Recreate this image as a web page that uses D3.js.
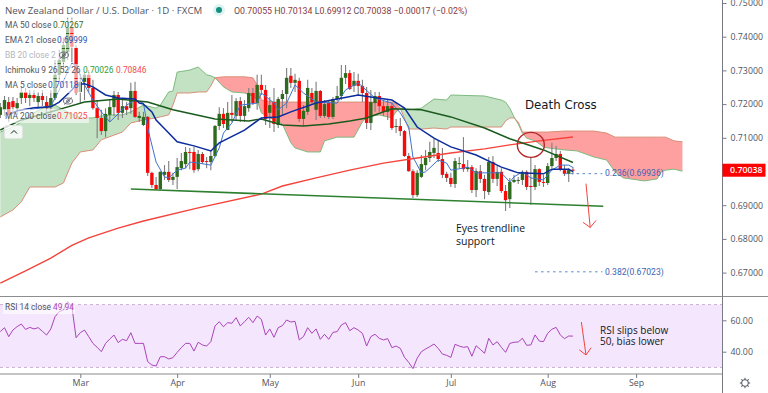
<!DOCTYPE html>
<html>
<head>
<meta charset="utf-8">
<script src="https://cdn.jsdelivr.net/npm/d3@7"></script>
<style>
  html, body { margin: 0; padding: 0; background: #fff; overflow: hidden; }
  text { font-family: "Open Sans", "Noto Sans", sans-serif; }
  .small { font-family: Roboto, sans-serif; }
</style>
</head>
<body>
<script>
var months = ["Mar", "Apr", "May", "Jun", "Jul", "Aug", "Sep"];
var monthBars = [19, 42, 64, 85, 107, 130, 151];
var priceTicks = [0.75, 0.74, 0.73, 0.72, 0.71, 0.70, 0.69, 0.68, 0.67];
var rsiTicks = [60, 40];

var opens = [.7168,.7183,.7206,.7209,.7188,.7218,.7236,.7218,.7227,.7206,.7224,.7206,.7191,.7218,.7287,.7325,.7355,.7426,.7367,.7236,
  .7266,.7287,.7248,.7188,.7159,.7120,.7168,.7191,.7227,.7174,.7194,.7188,.7239,.7159,.7138,.7162,.6996,.6960,.6948,.6990,
  .6999,.6975,.6984,.7010,.7022,.7058,.7058,.7007,.7052,.7031,.7028,.7046,.7135,.7171,.7123,.7174,.7165,.7209,.7165,.7188,
  .7233,.7203,.7257,.7242,.7174,.7206,.7138,.7215,.7230,.7284,.7263,.7269,.7156,.7177,.7233,.7183,.7239,.7165,.7203,.7162,
  .7215,.7224,.7278,.7292,.7254,.7269,.7254,.7233,.7144,.7203,.7224,.7194,.7177,.7194,.7132,.7135,.7120,.7046,.7001,.6930,
  .6984,.7019,.7040,.7055,.7055,.7037,.6993,.6981,.6963,.7022,.7022,.7007,.7013,.6945,.7001,.6978,.6939,.7028,.6978,.6999,
  .6942,.6918,.6969,.6972,.6975,.6999,.6957,.6954,.7007,.6969,.6966,.7016,.7040,.7052,.7004,.6993,.70055];
var highs = [.7203,.7224,.7221,.7221,.7218,.7254,.7248,.7242,.7242,.7236,.7242,.7224,.7242,.7331,.7361,.7397,.7456,.7456,.7376,.7290,
  .7295,.7301,.7272,.7212,.7183,.7188,.7212,.7239,.7236,.7218,.7206,.7263,.7266,.7177,.7177,.7165,.6999,.6984,.7001,.7019,
  .7031,.6996,.7040,.7055,.7073,.7070,.7073,.7064,.7058,.7043,.7064,.7138,.7191,.7188,.7206,.7227,.7218,.7221,.7212,.7248,
  .7248,.7287,.7287,.7257,.7221,.7248,.7221,.7242,.7307,.7307,.7290,.7278,.7197,.7272,.7248,.7266,.7242,.7212,.7212,.7221,
  .7254,.7316,.7316,.7301,.7295,.7290,.7272,.7251,.7242,.7236,.7236,.7212,.7212,.7203,.7156,.7159,.7123,.7055,.7007,.7004,
  .7049,.7064,.7088,.7097,.7091,.7070,.6999,.6996,.7040,.7043,.7102,.7034,.7019,.7010,.7019,.6990,.7043,.7046,.7016,.7010,
  .6960,.6981,.6990,.6984,.7004,.7004,.7043,.7019,.7010,.6990,.7025,.7085,.7076,.7061,.7019,.7010,.70134];
var lows = [.7159,.7165,.7147,.7174,.7168,.7200,.7203,.7194,.7206,.7188,.7194,.7171,.7168,.7212,.7266,.7301,.7331,.7325,.7227,.7203,
  .7212,.7236,.7183,.7099,.7108,.7102,.7147,.7165,.7153,.7159,.7168,.7171,.7159,.7147,.7135,.6987,.6951,.6945,.6945,.6975,
  .6969,.6960,.6948,.7004,.7010,.7007,.6996,.7001,.7022,.7010,.7004,.7043,.7123,.7129,.7123,.7147,.7153,.7147,.7147,.7177,
  .7197,.7183,.7227,.7138,.7129,.7117,.7129,.7168,.7188,.7248,.7236,.7147,.7135,.7168,.7200,.7153,.7159,.7159,.7156,.7156,
  .7209,.7212,.7260,.7242,.7236,.7227,.7206,.7126,.7123,.7177,.7177,.7165,.7153,.7123,.7114,.7105,.7043,.6999,.6921,.6924,
  .6981,.7004,.7028,.7040,.7028,.6981,.6969,.6954,.6951,.7010,.6999,.6999,.6936,.6924,.6966,.6918,.6930,.6966,.6957,.6936,
  .6883,.6892,.6966,.6963,.6960,.6945,.6901,.6945,.6957,.6954,.6960,.7010,.7031,.7001,.6987,.6969,.69912];
var closes = [.7191,.7212,.7168,.7191,.7203,.7236,.7218,.7227,.7218,.7224,.7212,.7188,.7218,.7287,.7331,.7376,.7426,.7370,.7233,.7266,
  .7287,.7248,.7188,.7159,.7120,.7171,.7191,.7227,.7174,.7194,.7183,.7239,.7162,.7165,.7162,.6996,.6960,.6948,.6999,.6999,
  .6975,.6984,.7013,.7031,.7058,.7055,.7004,.7052,.7028,.7028,.7046,.7135,.7171,.7141,.7174,.7168,.7209,.7165,.7194,.7233,
  .7203,.7257,.7242,.7156,.7197,.7141,.7215,.7230,.7278,.7263,.7272,.7156,.7180,.7248,.7206,.7239,.7165,.7200,.7162,.7215,
  .7224,.7278,.7292,.7245,.7269,.7254,.7233,.7144,.7206,.7224,.7194,.7177,.7194,.7129,.7135,.7120,.7046,.7001,.6930,.6996,
  .7022,.7040,.7058,.7070,.7037,.6990,.6981,.6963,.7031,.7025,.7007,.7013,.6945,.7001,.6978,.6942,.7028,.6978,.6999,.6942,
  .6915,.6969,.6975,.6975,.6999,.6954,.6954,.7007,.6969,.6966,.7016,.7040,.7052,.7007,.6993,.7004,.70038];

var ma200 = [[0,.6669],[6,.6705],[12,.6743],[17,.6781],[21,.6803],[28,.6832],[34,.6853],[47,.6892],[62,.6933],[67,.6957],[75,.6981],[83,.7004],
  [91,.7025],[99,.7040],[107,.7055],[115,.7067],[121,.7079],[128,.7091],[136,.71025]];
var ma50 = [[0,.7123],[5,.7153],[12,.7177],[20,.7206],[28,.7215],[35,.7206],[41,.7183],[51,.7156],[59,.7150],[62,.7156],[67,.7138],
  [72,.7135],[78,.7141],[83,.7150],[87,.7159],[93,.7186],[100,.7183],[107,.7162],[115,.7129],[121,.7097],[129,.7064],[136,.70267]];
var ema21 = [[2,.7168],[4,.7180],[8,.7189],[12,.7192],[14,.7206],[17,.7242],[18,.7257],[20,.7260],[22,.7251],[25,.7227],[28,.7218],
  [32,.7215],[33,.7203],[34,.7200],[36,.7177],[37,.7153],[40,.7114],[42,.7088],[46,.7076],[50,.7061],[52,.7085],[58,.7123],[62,.7159],
  [66,.7162],[69,.7177],[75,.7203],[85,.7227],[88,.7221],[93,.7212],[96,.7188],[99,.7132],[103,.7099],[107,.7073],[113,.7049],
  [119,.7013],[123,.6996],[129,.6993],[131,.7007],[135,.7007],[136,.69999]];
var ma5 = [[7,.7183],[12,.7194],[14,.7242],[16,.7295],[17,.7322],[18,.7313],[20,.7257],[22,.7212],[24,.7177],[26,.7147],[28,.7171],
  [30,.7197],[32,.7212],[34,.7203],[35,.7129],[37,.7028],[39,.6984],[40,.6981],[42,.7004],[44,.7010],[45,.7028],[47,.7025],[50,.7019],
  [52,.7070],[53,.7114],[55,.7144],[57,.7197],[61,.7203],[62,.7233],[65,.7203],[66,.7183],[68,.7203],[70,.7257],[72,.7233],[75,.7206],
  [80,.7203],[82,.7242],[85,.7263],[89,.7218],[93,.7203],[95,.7174],[97,.7132],[98,.7043],[100,.6996],[101,.6999],[104,.7034],
  [106,.7025],[107,.7004],[110,.7010],[111,.7013],[113,.6996],[117,.6996],[119,.6996],[121,.6969],[122,.6984],[124,.6999],[126,.6981],
  [129,.6975],[131,.7004],[133,.7019],[135,.7019],[136,.70118]];

var cloudBars = [0,3,5,7,12,13,15,17,19,22,24,27,29,31,34,37,38,40,41,42,45,47,49,50,51,53,55,58,60,61,62,65,67,69,70,73,76,77,80,84,
  86,87,90,93,94,95,97,100,103,106,107,115,119,120,121,122,123,124,125,127,129,130,134,137,141,144,146,148,153,156,157,158,160,162];
var spanA = [.7117,.7132,.7147,.7168,.7200,.7197,.7183,.7171,.7159,.7159,.7165,.7168,.7168,.7177,.7197,.7188,.7197,.7236,.7239,.7295,
  .7301,.7310,.7287,.7284,.7278,.7251,.7236,.7233,.7224,.7212,.7174,.7153,.7141,.7085,.7070,.7058,.7058,.7091,.7102,.7102,
  .7147,.7162,.7168,.7159,.7177,.7188,.7183,.7188,.7215,.7212,.7227,.7224,.7212,.7206,.7188,.7162,.7141,.7114,.7099,.7091,
  .7073,.7070,.7064,.7061,.7043,.7034,.6999,.6981,.6972,.6978,.6999,.7004,.7007,.7001];
var spanB = [.6865,.6886,.6910,.6954,.6954,.6954,.6966,.7025,.7058,.7064,.7094,.7108,.7117,.7144,.7153,.7159,.7162,.7168,.7197,.7233,
  .7233,.7236,.7236,.7254,.7278,.7281,.7281,.7281,.7278,.7257,.7212,.7206,.7206,.7206,.7206,.7206,.7206,.7206,.7206,.7206,
  .7206,.7206,.7206,.7206,.7200,.7188,.7126,.7126,.7129,.7126,.7132,.7132,.7132,.7150,.7159,.7159,.7147,.7117,.7117,.7117,
  .7117,.7117,.7120,.7120,.7120,.7114,.7102,.7102,.7102,.7102,.7102,.7102,.7091,.7088];

var rsiValues = [52.8,55.3,49.6,53.8,56,57.6,54.2,55.5,54.5,55.3,53,50.6,54.5,62.3,65.5,66.6,71.9,68.7,48.9,52.1,
  53.8,49.6,45.3,42.8,40,45.3,48.1,50.6,45.8,47.9,47,52.1,45.3,45.3,45.3,33.7,31.5,30.9,36.8,36.8,
  35.4,36.2,39.6,42.6,45.3,45.3,40.4,46,44.3,43.6,46.4,56.4,59.1,55.9,58.5,58.1,61.7,56.4,59.1,61.9,
  58.5,62.7,60.6,50.6,54.5,49.2,55.3,56.6,60.2,58.9,59.3,47.5,49.6,55.3,51.7,54.5,47.9,51.1,47.9,52.3,
  52.8,57,58.5,53.4,55.3,53.8,51.7,43.6,49.6,51.1,48.5,47.5,48.3,42.6,43.6,42.1,36.4,33.2,29.2,35.8,
  40,41.7,43.2,44.9,42.1,38.5,37.7,36.4,44.7,43.6,42.8,43.2,37.1,43.8,41.5,39,48.5,44.3,46.4,42.8,
  39.6,45.3,46,46.2,48.5,44.1,44.3,50.7,46.8,46.4,51.7,54.3,55.5,50.7,48.3,50,49.94];

var trendLine = [[31,.6948],[143.2,.6897]];
var fib236 = [[134,.69936],[143,.69936]];
var fib382 = [[127,.67023],[143,.67023]];
var arrowMain = [[139.1,.6964],[140.1,.6834]];
var arrowMainHead = [[138.4,.6849],[140.1,.6834],[141.5,.6855]];
var arrowRsi = [[138,58.9],[139.1,37.9]];
var arrowRsiHead = [[137.5,41.2],[139.1,37.9],[140.3,42.5]];

var width = 768,
    height = 393,
    axisX = 722.5,
    paneBottom = 296,
    rsiBottom = 374;

var svg = d3.select("body").append("svg")
    .attr("width", width)
    .attr("height", height)
    .style("display", "block");

var x = d3.scaleLinear().domain([0, 171.4]).range([0.3, 722]);
var y = d3.scaleLinear().domain([0.70, 0.74]).range([171.5, 36.7]);
var yRsi = d3.scaleLinear().domain([60, 40]).range([320.3, 351.7]);

var defs = svg.append("defs");
defs.append("clipPath").attr("id", "pane")
  .append("rect").attr("width", axisX).attr("height", paneBottom);

var chart = svg.append("g").attr("clip-path", "url(#pane)");

// ichimoku cloud
var cloud = cloudBars.map(function(d, i) { return {i: d, a: spanA[i], b: spanB[i]}; });

function cloudArea(pick) {
  return d3.area()
    .x(function(d) { return x(d.i); })
    .y0(function(d) { return y(d.b); })
    .y1(function(d) { return y(pick(d.a, d.b)); });
}

chart.append("path").datum(cloud)
    .attr("fill", "#c3e1c3")
    .attr("d", cloudArea(Math.max));
chart.append("path").datum(cloud)
    .attr("fill", "#ffa0a0")
    .attr("d", cloudArea(Math.min));

var pairLine = d3.line()
    .x(function(d) { return x(d[0]); })
    .y(function(d) { return y(d[1]); });

chart.append("path")
    .attr("fill", "none").attr("stroke", "#7dbb7f").attr("stroke-width", 1)
    .attr("d", pairLine(cloud.map(function(d) { return [d.i, d.a]; })));
chart.append("path")
    .attr("fill", "none").attr("stroke", "#d98f78").attr("stroke-width", 1)
    .attr("d", pairLine(cloud.map(function(d) { return [d.i, d.b]; })));

// candles
var bars = chart.selectAll(".bar")
    .data(opens)
  .enter().append("g")
    .attr("class", "bar");

bars.append("line")
    .attr("x1", function(d, i) { return x(i); })
    .attr("x2", function(d, i) { return x(i); })
    .attr("y1", function(d, i) { return y(highs[i]); })
    .attr("y2", function(d, i) { return y(lows[i]); })
    .attr("stroke", "#7d7d7d")
    .attr("stroke-width", 1.1);

bars.append("rect")
    .attr("x", function(d, i) { return x(i) - 1.7; })
    .attr("width", 3.4)
    .attr("y", function(d, i) { return y(Math.max(opens[i], closes[i])); })
    .attr("height", function(d, i) { return Math.max(1, Math.abs(y(opens[i]) - y(closes[i]))); })
    .attr("fill", function(d, i) { return closes[i] >= opens[i] ? "#2e6b1e" : "#f70a0a"; });

// moving averages
chart.append("path")
    .attr("fill", "none").attr("stroke", "#f4433c").attr("stroke-width", 1.4)
    .attr("d", pairLine(ma200));
chart.append("path")
    .attr("fill", "none").attr("stroke", "#3f73cf").attr("stroke-width", 1)
    .attr("d", pairLine(ma5));
chart.append("path")
    .attr("fill", "none").attr("stroke", "#1a5b1d").attr("stroke-width", 1.5)
    .attr("d", pairLine(ma50));
chart.append("path")
    .attr("fill", "none").attr("stroke", "#0c2c9c").attr("stroke-width", 1.5)
    .attr("d", pairLine(ema21));

// drawings
chart.append("path")
    .attr("fill", "none").attr("stroke", "#2d8030").attr("stroke-width", 1.6)
    .attr("d", pairLine(trendLine));

chart.append("ellipse")
    .attr("cx", x(126)).attr("cy", y(.7079))
    .attr("rx", 13.5).attr("ry", 12.5)
    .attr("fill", "none").attr("stroke", "#b3262a").attr("stroke-width", 1.4);

[fib236, fib382].forEach(function(d) {
  chart.append("path")
      .attr("fill", "none").attr("stroke", "#5b85d0").attr("stroke-dasharray", "2.5 3.5")
      .attr("d", pairLine(d));
});

[arrowMain, arrowMainHead].forEach(function(d) {
  chart.append("path")
      .attr("fill", "none").attr("stroke", "#f4433c")
      .attr("d", pairLine(d));
});

function note(parent, px, py, str, size, color) {
  return parent.append("text")
      .attr("x", px).attr("y", py)
      .attr("font-size", size)
      .attr("fill", color)
      .text(str);
}

note(svg, 525, 109, "Death Cross", 11.8, "#131722").style("font-family", "DejaVu Sans");
note(svg, 456, 232, "Eyes trendline", 10.5, "#131722").style("font-weight", 500);
note(svg, 456, 245, "support", 10.5, "#131722").style("font-weight", 500);
note(svg, 605, 176, "0.236(0.69936)", 8.6, "#3c63b4").attr("class", "small");
note(svg, 605, 275, "0.382(0.67023)", 8.6, "#3c63b4").attr("class", "small");

// rsi pane
svg.append("rect")
    .attr("x", 0).attr("width", axisX)
    .attr("y", yRsi(70)).attr("height", yRsi(30) - yRsi(70))
    .attr("fill", "#f4e6fd");

[70, 30].forEach(function(d) {
  svg.append("line")
      .attr("x1", 0).attr("x2", axisX)
      .attr("y1", yRsi(d)).attr("y2", yRsi(d))
      .attr("stroke", "#c9b0d1").attr("stroke-dasharray", "3 3");
});

var rsiLine = d3.line()
    .x(function(d, i) { return x(i); })
    .y(function(d) { return yRsi(d); });

svg.append("path")
    .datum(rsiValues)
    .attr("fill", "none").attr("stroke", "#a944b8").attr("stroke-width", 1)
    .attr("d", rsiLine);

var rsiPair = d3.line()
    .x(function(d) { return x(d[0]); })
    .y(function(d) { return yRsi(d[1]); });

[arrowRsi, arrowRsiHead].forEach(function(d) {
  svg.append("path")
      .attr("fill", "none").attr("stroke", "#f4433c")
      .attr("d", rsiPair(d));
});

note(svg, 600, 334, "RSI slips below", 10, "#131722").style("font-weight", 500);
note(svg, 600, 344.5, "50, bias lower", 10, "#131722").style("font-weight", 500);

// pane separators
svg.append("line")
    .attr("x1", 0).attr("x2", width)
    .attr("y1", paneBottom + 0.5).attr("y2", paneBottom + 0.5)
    .attr("stroke", "#8d8d8d");
svg.append("line")
    .attr("x1", 0).attr("x2", axisX)
    .attr("y1", rsiBottom).attr("y2", rsiBottom)
    .attr("stroke", "#c4c4c4").attr("stroke-width", 2);

// axes
var yAxis = svg.append("g")
    .attr("transform", "translate(" + axisX + ",0)")
    .call(d3.axisRight(y).tickValues(priceTicks).tickSize(4).tickPadding(4)
      .tickFormat(function(d) { return d.toFixed(5); }));

var rsiAxis = svg.append("g")
    .attr("transform", "translate(" + axisX + ",0)")
    .call(d3.axisRight(yRsi).tickValues(rsiTicks).tickSize(4).tickPadding(4)
      .tickFormat(function(d) { return d.toFixed(2); }));

var xAxis = svg.append("g")
    .attr("transform", "translate(0," + rsiBottom + ")")
    .call(d3.axisBottom(x).tickValues(monthBars).tickSize(4).tickPadding(2)
      .tickFormat(function(d, i) { return months[i]; }));

[yAxis, rsiAxis, xAxis].forEach(function(a) {
  a.select(".domain").remove();
  a.selectAll("line").attr("stroke", "#787b86");
  a.selectAll("text")
      .attr("fill", "#50535e")
      .style("font-size", "8.8px")
      .style("font-family", "Open Sans");
});

svg.append("line")
    .attr("x1", axisX).attr("x2", axisX)
    .attr("y1", 0).attr("y2", height)
    .attr("stroke", "#787b86");

// last price tag
svg.append("rect")
    .attr("x", axisX).attr("y", y(closes[closes.length - 1]) - 6.5)
    .attr("width", 43).attr("height", 13)
    .attr("fill", "#ff0000");
svg.append("text")
    .attr("x", axisX + 7.5).attr("y", y(closes[closes.length - 1]) + 3.2)
    .attr("fill", "#fff")
    .style("font-size", "8.8px").style("font-family", "Open Sans").style("font-weight", 600)
    .text(closes[closes.length - 1].toFixed(5));

// legend
var legendBg = [[3, 19, 77], [3, 34, 86], [3, 49, 68], [3, 64, 143], [3, 79, 78], [3, 109, 86], [3, 300, 72]];
legendBg.forEach(function(d) {
  svg.append("rect")
      .attr("x", d[0]).attr("y", d[1]).attr("width", d[2]).attr("height", 14)
      .attr("fill", "#fff").attr("opacity", 0.6);
});

var gray = "#50535e";
function legend(px, py, str, color) {
  return note(svg, px, py, str, 8.4, color).attr("class", "small");
}

note(svg, 5, 14, "New Zealand Dollar / U.S. Dollar · 1D · FXCM", 9.7, gray);
legend(5, 28, "MA 50 close", gray);
legend(53, 28, "0.70267", "#2e6b1e");
legend(5, 43, "EMA 21 close", gray);
legend(57, 43, "0.69999", "#2a4fb0");
legend(5, 58, "BB 20 close 2", "#b5b6bc");
legend(5, 73, "Ichimoku 9 26 52 26", gray);
legend(83, 73, "0.70026", "#2f9e33");
legend(116, 73, "0.70846", "#f44a4a");
legend(5, 88, "MA 5 close", gray);
legend(48, 88, "0.70118", "#2a4fb0");
legend(5, 119, "MA 200 close", gray);
legend(57, 119, "0.71025", "#f44a4a");
legend(5, 310, "RSI 14 close", gray);
legend(53, 310, "49.94", "#a944b8");

function eye(cx, cy) {
  var e = svg.append("g").attr("transform", "translate(" + cx + "," + cy + ")")
      .attr("fill", "none").attr("stroke", "#50535e").attr("stroke-width", 0.8);
  e.append("ellipse").attr("rx", 4.5).attr("ry", 3);
  e.append("circle").attr("r", 1.4);
  e.append("line").attr("x1", -4).attr("y1", 3.5).attr("x2", 4).attr("y2", -3.5);
}
eye(64, 55);
eye(68, 101);

svg.append("rect")
    .attr("x", 4.5).attr("y", 125.5).attr("width", 18).attr("height", 13).attr("rx", 2)
    .attr("fill", "#fff").attr("fill-opacity", 0.8).attr("stroke", "#e4e4e6");
svg.append("path")
    .attr("d", "M11,133.5L14,130.5L17,133.5")
    .attr("fill", "none").attr("stroke", "#131722");

// status dot and ohlc
svg.append("circle").attr("cx", 219).attr("cy", 10).attr("r", 6).attr("fill", "#e0f2f1");
svg.append("circle").attr("cx", 219).attr("cy", 10).attr("r", 3).attr("fill", "#13917f");

var ohlc = note(svg, 234, 14, "", 8.8, "#8a3a3a").attr("class", "small");
ohlc.append("tspan").attr("fill", gray).text("O");
ohlc.append("tspan").text("0.70055 ");
ohlc.append("tspan").attr("fill", gray).text("H");
ohlc.append("tspan").text("0.70134 ");
ohlc.append("tspan").attr("fill", gray).text("L");
ohlc.append("tspan").text("0.69912 ");
ohlc.append("tspan").attr("fill", gray).text("C");
ohlc.append("tspan").text("0.70038 −0.00017 (−0.02%)");

// settings icon
var gear = svg.append("g").attr("transform", "translate(745,383)")
    .attr("fill", "none").attr("stroke", "#50535e");
gear.append("circle").attr("r", 3.4);
gear.selectAll("line")
    .data([0, 45, 90, 135, 180, 225, 270, 315])
  .enter().append("line")
    .attr("y1", -3.4).attr("y2", -5.2)
    .attr("transform", function(d) { return "rotate(" + d + ")"; });
</script>
</body>
</html>
